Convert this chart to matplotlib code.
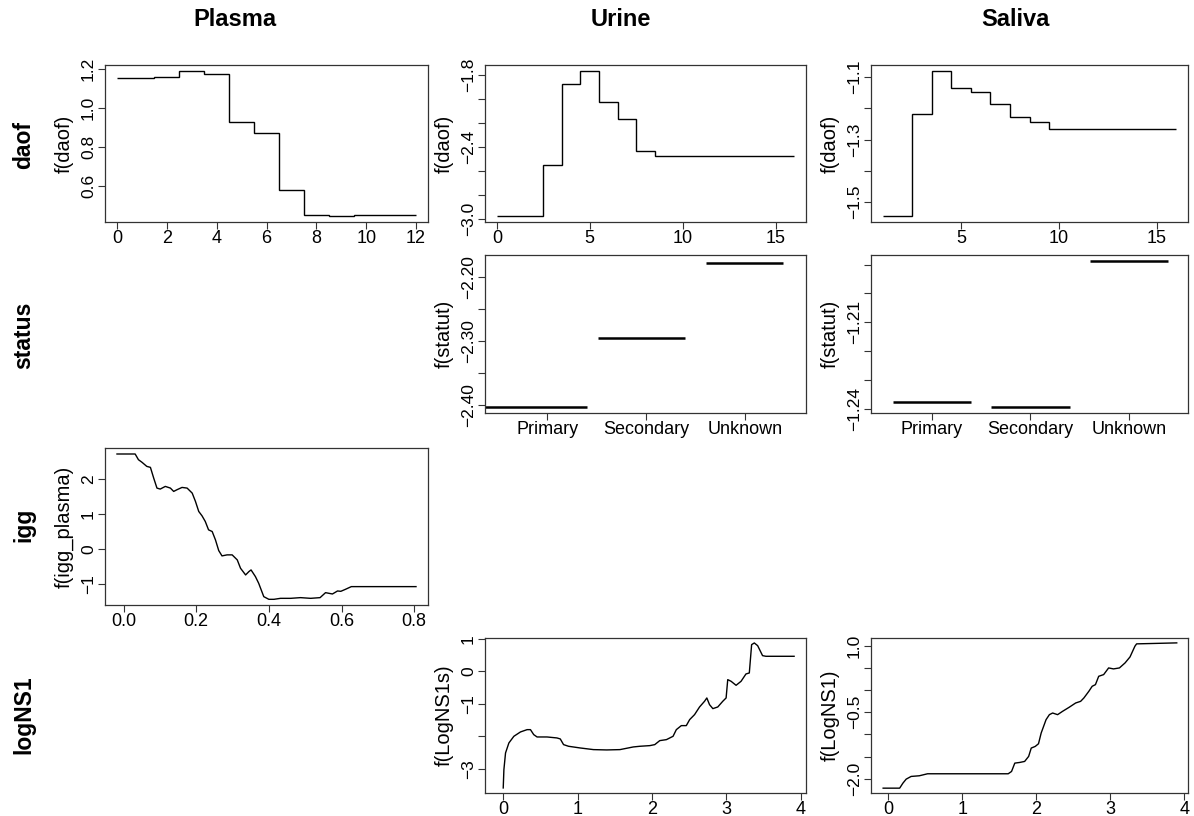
""" Partial effects of the GAM terms per sample type """

import matplotlib.pyplot as plt
import numpy as np

plt.rcParams["font.family"] = ["Liberation Sans", "DejaVu Sans"]

W, H = 1194, 816

col_titles = ["Plasma", "Urine", "Saliva"]
row_titles = ["daof", "status", "igg", "logNS1"]

# daof: step functions, bin edges and one level per bin
plasma_daof_edges = [0, 1.5, 2.5, 3.5, 4.5, 5.5, 6.5, 7.5, 8.5, 9.5, 12]
plasma_daof_levels = [1.152, 1.159, 1.19, 1.176, 0.927, 0.873, 0.578, 0.449, 0.444, 0.452]
urine_daof_edges = [0, 2.5, 3.5, 4.5, 5.5, 6.5, 7.5, 8.5, 16]
urine_daof_levels = [-2.978, -2.548, -1.878, -1.767, -2.029, -2.171, -2.434, -2.475]
saliva_daof_edges = [1, 2.5, 3.5, 4.5, 5.5, 6.5, 7.5, 8.5, 9.5, 16]
saliva_daof_levels = [-1.545, -1.218, -1.080, -1.135, -1.148, -1.187, -1.227, -1.245, -1.265]

# status: one level per category
status_levels = ["Primary", "Secondary", "Unknown"]
urine_status = [-2.4026, -2.2948, -2.178]
urine_status_from = [0.37, 1.51, 2.61]
urine_status_to = [1.40, 2.39, 3.39]
saliva_status = [-1.2376, -1.2393, -1.1888]
saliva_status_from = [0.6, 1.6, 2.6]
saliva_status_to = [1.4, 2.4, 3.4]

# igg (plasma only)
igg_x = [-0.018, 0.032, 0.041, 0.051, 0.064, 0.074, 0.083, 0.092, 0.101, 0.115,
         0.129, 0.138, 0.147, 0.161, 0.175, 0.189, 0.198, 0.207, 0.216, 0.225,
         0.234, 0.244, 0.253, 0.262, 0.271, 0.285, 0.299, 0.313, 0.322, 0.336,
         0.345, 0.351, 0.363, 0.372, 0.386, 0.400, 0.414, 0.432, 0.460, 0.487,
         0.515, 0.541, 0.556, 0.575, 0.589, 0.598, 0.611, 0.627, 0.805]
igg_y = [2.705, 2.705, 2.543, 2.467, 2.352, 2.324, 2.019, 1.733, 1.705, 1.781,
         1.733, 1.638, 1.686, 1.752, 1.733, 1.590, 1.352, 1.067, 0.943, 0.781,
         0.543, 0.495, 0.257, -0.048, -0.200, -0.171, -0.171, -0.314, -0.552, -0.743,
         -0.648, -0.600, -0.790, -0.981, -1.362, -1.438, -1.438, -1.410, -1.410, -1.390,
         -1.410, -1.390, -1.248, -1.286, -1.200, -1.210, -1.152, -1.076, -1.076]

# logNS1
urine_ns1_x = [0.0, 0.009, 0.031, 0.076, 0.143, 0.232, 0.321, 0.366, 0.41, 0.455,
               0.589, 0.722, 0.767, 0.811, 0.878, 1.034, 1.213, 1.391, 1.569, 1.748,
               1.837, 1.971, 2.037, 2.104, 2.194, 2.283, 2.327, 2.394, 2.461, 2.506,
               2.572, 2.639, 2.706, 2.737, 2.773, 2.818, 2.884, 2.951, 2.996, 3.018,
               3.063, 3.130, 3.197, 3.263, 3.308, 3.339, 3.375, 3.42, 3.486, 3.531, 3.91]
urine_ns1_y = [-3.594, -3.03, -2.515, -2.207, -2.001, -1.867, -1.796, -1.796, -1.950, -2.022,
               -2.022, -2.052, -2.083, -2.258, -2.309, -2.361, -2.412, -2.422, -2.412, -2.330,
               -2.309, -2.289, -2.258, -2.135, -2.104, -2.001, -1.796, -1.672, -1.672, -1.487,
               -1.333, -1.097, -0.922, -0.819, -1.025, -1.148, -1.097, -0.922, -0.819, -0.254,
               -0.305, -0.429, -0.305, -0.079, -0.048, 0.825, 0.877, 0.794, 0.486, 0.466, 0.466]
saliva_ns1_x = [-0.067, 0.156, 0.2, 0.244, 0.311, 0.422, 0.533, 0.822, 1.267, 1.622,
                1.667, 1.711, 1.778, 1.844, 1.898, 1.933, 1.987, 2.031, 2.067, 2.133,
                2.178, 2.222, 2.289, 2.356, 2.444, 2.533, 2.6, 2.644, 2.711, 2.756,
                2.8, 2.844, 2.911, 2.978, 3.044, 3.124, 3.2, 3.267, 3.333, 3.356,
                3.533, 3.898]
saliva_ns1_y = [-2.211, -2.211, -2.098, -2.008, -1.947, -1.932, -1.887, -1.887, -1.887, -1.887,
                -1.835, -1.647, -1.632, -1.609, -1.496, -1.308, -1.271, -1.211, -0.970, -0.669,
                -0.556, -0.519, -0.556, -0.481, -0.391, -0.293, -0.256, -0.180, -0.030, 0.083,
                0.120, 0.308, 0.346, 0.496, 0.474, 0.496, 0.609, 0.744, 0.985, 1.038,
                1.045, 1.060]

MINUS = "\u2212"


def fmt(values, keep, digits):
    """ Tick labels, blank where R dropped an overlapping label """
    out = []
    for v in values:
        if any(abs(v - k) < 1e-9 for k in keep):
            out.append(f"{v:.{digits}f}".replace("-", MINUS))
        else:
            out.append("")
    return out


def make_axes(fig, left, top, right, bottom):
    """ Axes placed by pixel box """
    ax = fig.add_axes([left / W, 1 - bottom / H, (right - left) / W, (bottom - top) / H])
    for spine in ax.spines.values():
        spine.set_color("#333333")
        spine.set_linewidth(0.9)
    ax.tick_params(direction="out", length=5, width=0.8, color="#333333")
    ax.tick_params(axis="x", labelsize=13, pad=0.5)
    ax.tick_params(axis="y", labelsize=12.5, pad=1.5)
    return ax


def finish(ax, xticks, xlabels, yticks, ylabels, xlim, ylim, ylabel, width_px):
    ax.set_xticks(xticks)
    ax.set_xticklabels(xlabels)
    ax.set_yticks(yticks)
    ax.set_yticklabels(ylabels, rotation=90, va="center")
    ax.set_xlim(*xlim)
    ax.set_ylim(*ylim)
    ax.set_ylabel(ylabel, fontsize=14.5, va="center")
    ax.yaxis.set_label_coords(-41 / width_px, 0.5)


fig = plt.figure(figsize=(W / 100, H / 100), dpi=100)

cols = [(105, 428), (485, 806), (871, 1188)]
rows = [(65, 222), (255, 413), (448, 605), (638, 793)]

# Row 1: daof
ax = make_axes(fig, cols[0][0], rows[0][0], cols[0][1], rows[0][1])
ax.stairs(plasma_daof_levels, plasma_daof_edges, color="black", lw=1.0, baseline=None)
yt = [0.6, 0.8, 1.0, 1.2]
finish(ax, list(range(0, 13, 2)), [str(v) for v in range(0, 13, 2)], yt, fmt(yt, yt, 1),
       (-0.48, 12.48), (0.414, 1.220), "f(daof)", cols[0][1] - cols[0][0])

ax = make_axes(fig, cols[1][0], rows[0][0], cols[1][1], rows[0][1])
ax.stairs(urine_daof_levels, urine_daof_edges, color="black", lw=1.0, baseline=None)
yt = list(np.round(np.arange(-3.0, -1.79, 0.2), 1))
finish(ax, [0, 5, 10, 15], ["0", "5", "10", "15"], yt, fmt(yt, [-3.0, -2.4, -1.8], 1),
       (-0.64, 16.64), (-3.026, -1.719), "f(daof)", cols[1][1] - cols[1][0])

ax = make_axes(fig, cols[2][0], rows[0][0], cols[2][1], rows[0][1])
ax.stairs(saliva_daof_levels, saliva_daof_edges, color="black", lw=1.0, baseline=None)
yt = list(np.round(np.arange(-1.5, -1.09, 0.1), 1))
finish(ax, [5, 10, 15], ["5", "10", "15"], yt, fmt(yt, [-1.5, -1.3, -1.1], 1),
       (0.4, 16.6), (-1.564, -1.061), "f(daof)", cols[2][1] - cols[2][0])

# Row 2: status
ax = make_axes(fig, cols[1][0], rows[1][0], cols[1][1], rows[1][1])
ax.hlines(urine_status, urine_status_from, urine_status_to, color="black", lw=1.8)
yt = list(np.round(np.arange(-2.40, -2.19, 0.05), 2))
finish(ax, [1, 2, 3], status_levels, yt, fmt(yt, [-2.40, -2.30, -2.20], 2),
       (0.37, 3.62), (-2.412, -2.165), "f(statut)", cols[1][1] - cols[1][0])

ax = make_axes(fig, cols[2][0], rows[1][0], cols[2][1], rows[1][1])
ax.hlines(saliva_status, saliva_status_from, saliva_status_to, color="black", lw=1.8)
yt = list(np.round(np.arange(-1.24, -1.185, 0.01), 2))
finish(ax, [1, 2, 3], status_levels, yt, fmt(yt, [-1.24, -1.21], 2),
       (0.38, 3.6), (-1.2414, -1.1867), "f(statut)", cols[2][1] - cols[2][0])

# Row 3: igg
ax = make_axes(fig, cols[0][0], rows[2][0], cols[0][1], rows[2][1])
ax.plot(igg_x, igg_y, color="black", lw=1.0)
yt = [-1, 0, 1, 2]
finish(ax, [0, 0.2, 0.4, 0.6, 0.8], ["0.0", "0.2", "0.4", "0.6", "0.8"], yt, fmt(yt, yt, 0),
       (-0.051, 0.838), (-1.60, 2.876), "f(igg_plasma)", cols[0][1] - cols[0][0])

# Row 4: logNS1
ax = make_axes(fig, cols[1][0], rows[3][0], cols[1][1], rows[3][1])
ax.plot(urine_ns1_x, urine_ns1_y, color="black", lw=1.0)
yt = [-3, -2, -1, 0, 1]
finish(ax, [0, 1, 2, 3, 4], ["0", "1", "2", "3", "4"], yt, fmt(yt, [-3, -1, 0, 1], 0),
       (-0.245, 4.07), (-3.75, 1.03), "f(LogNS1s)", cols[1][1] - cols[1][0])

ax = make_axes(fig, cols[2][0], rows[3][0], cols[2][1], rows[3][1])
ax.plot(saliva_ns1_x, saliva_ns1_y, color="black", lw=1.0)
yt = [-2.0, -1.5, -1.0, -0.5, 0.0, 0.5, 1.0]
finish(ax, [0, 1, 2, 3, 4], ["0", "1", "2", "3", "4"], yt, fmt(yt, [-2.0, -0.5, 1.0], 1),
       (-0.231, 4.05), (-2.32, 1.17), "f(LogNS1)", cols[2][1] - cols[2][0])

# Column and row headers
for title, x in zip(col_titles, [235, 621, 1015]):
    fig.text(x / W, 1 - 19 / H, title, ha="center", va="center",
             fontsize=17, fontweight="bold")
for title, y in zip(row_titles, [145, 335, 525, 715]):
    fig.text(24 / W, 1 - y / H, title, ha="center", va="center", rotation=90,
             fontsize=16.5, fontweight="bold")

plt.savefig("out.png", dpi=100)
